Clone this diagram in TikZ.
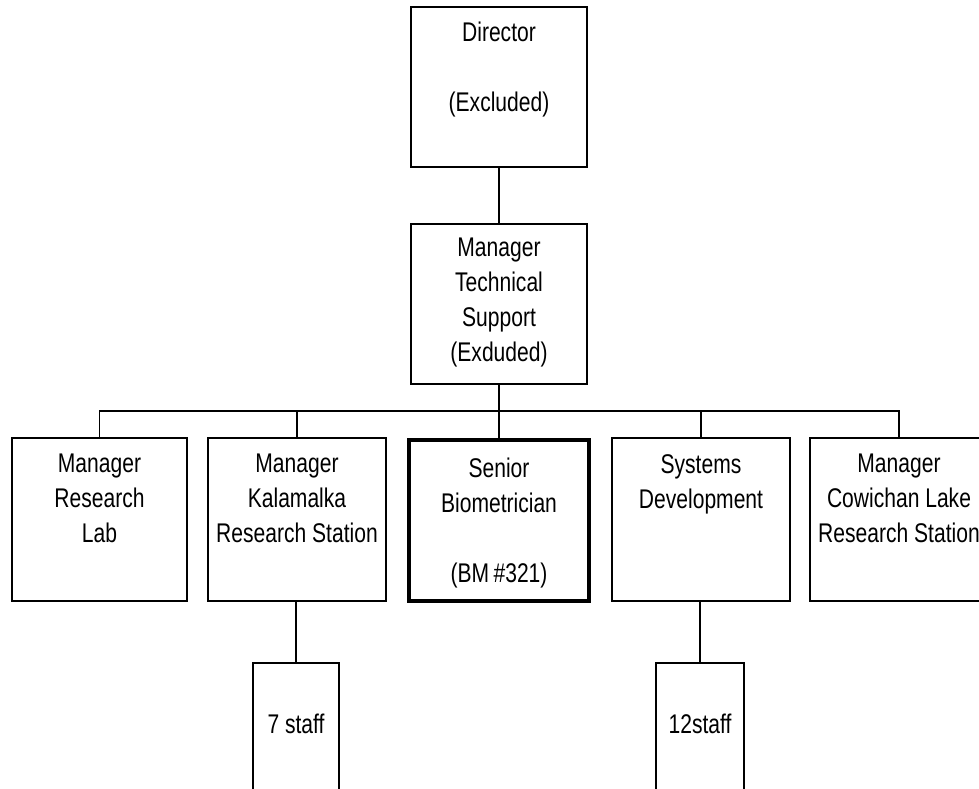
\documentclass[tikz,border=0pt]{standalone}
\usepackage{fontspec}
\setmainfont{Liberation Sans}[FakeStretch=0.78]
\begin{document}
\begin{tikzpicture}[x=1pt,y=-1pt,
  box/.style={draw=black,line width=1.8pt,fill=white,rectangle,inner sep=0pt},
  thickbox/.style={box,line width=3.6pt},
  txt/.style={align=center,inner sep=0pt,anchor=north,font=\fontsize{27}{35}\selectfont},
  conn/.style={draw=black,line width=1.6pt}]
\useasboundingbox (0,0) rectangle (979,788);
% boxes
\node[box,minimum width=176,minimum height=160] (dir) at (499,87) {};
\node[box,minimum width=176,minimum height=160] (ts) at (499,304) {};
\node[box,minimum width=175,minimum height=163] (b1) at (99.5,519.5) {};
\node[box,minimum width=178,minimum height=163] (b2) at (297,519.5) {};
\node[thickbox,minimum width=180,minimum height=161] (b3) at (499,520.5) {};
\node[box,minimum width=178,minimum height=163] (b4) at (701,519.5) {};
\node[box,minimum width=178,minimum height=163] (b5) at (899,519.5) {};
\node[box,minimum width=86,minimum height=150] (s7) at (296,738) {};
\node[box,minimum width=88,minimum height=150] (s12) at (700,738) {};
% texts
\node[txt] (dirt) at ([yshift=-16]dir.north) {Director\\[35pt](Excluded)};
\node[txt] (tst) at ([yshift=-15]ts.north) {Manager\\Technical\\Support\\(Exduded)};
\node[txt] (b1t) at ([yshift=-17]b1.north) {Manager\\Research\\Lab};
\node[txt] (b2t) at ([yshift=-17]b2.north) {Manager\\Kalamalka\\Research Station};
\node[txt] (b3t) at ([yshift=-20]b3.north) {Senior\\Biometrician\\[35pt](BM\,\#321)};
\node[txt] (b4t) at ([yshift=-17]b4.north) {Systems\\Development};
\node[txt] (b5t) at ([yshift=-17]b5.north) {Manager\\Cowichan Lake\\Research Station};
\node[txt] (s7t) at ([yshift=-52]s7.north) {7 staff};
\node[txt] (s12t) at ([yshift=-52]s12.north) {12staff};
% connectors
\coordinate (bar) at (499,411);
\draw[conn] (dir.south) -- (ts.north);
\draw[conn] (ts.south) -- (bar);
\draw[conn] (b1.north) -- (b1.north |- bar) -- (b5.north |- bar) -- (b5.north);
\draw[conn] (b2.north) -- (b2.north |- bar);
\draw[conn] (b3.north) -- (b3.north |- bar);
\draw[conn] (b4.north) -- (b4.north |- bar);
\draw[conn] (s7.north |- b2.south) -- (s7.north);
\draw[conn] (s12.north |- b4.south) -- (s12.north);
\end{tikzpicture}
\end{document}
